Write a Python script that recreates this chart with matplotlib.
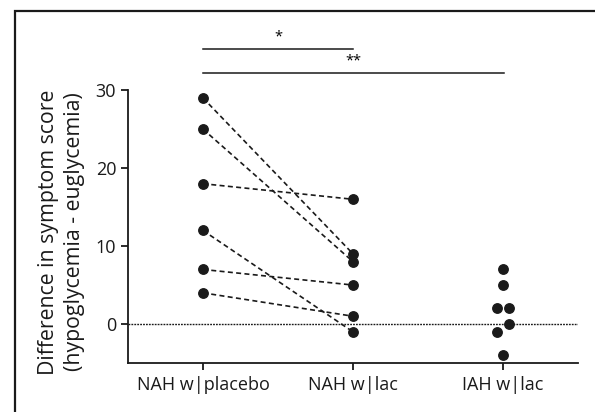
import matplotlib.pyplot as plt
from matplotlib.lines import Line2D

plt.rcParams['font.family'] = ['Open Sans', 'DejaVu Sans']

groups = ["NAH w|placebo", "NAH w|lac", "IAH w|lac"]
nah_placebo = [29, 25, 18, 12, 7, 4]
nah_lac = [9, 8, 16, -1, 5, 1]
iah_lac = [7, 5, 2, 2, 0, -1, -4]
iah_offset = [0, 0, -0.04, 0.04, 0.04, -0.04, 0]

fig = plt.figure(figsize=(5.95, 4.12), dpi=100)
ax = fig.add_axes([0.2151, 0.1189, 0.7563, 0.8326])

# outer frame: only the left and top edges show in the original
fx, fy = 15 / 595, 1 - 11 / 412
fig.add_artist(Line2D([fx, fx, 1.0], [0.0, fy, fy], transform=fig.transFigure,
                      color='#1a1a1a', linewidth=1.6, solid_joinstyle='miter'))

for a, b in zip(nah_placebo, nah_lac):
    ax.plot([0, 1], [a, b], color='#1a1a1a', linestyle=(0, (3, 2)), linewidth=1.2, zorder=2)

ax.axhline(0, color='#1a1a1a', linestyle=(0, (1.3, 0.8)), linewidth=1.0, zorder=1)

ax.plot([0] * len(nah_placebo), nah_placebo, 'o', color='#1a1a1a', markersize=6.8, zorder=3)
ax.plot([1] * len(nah_lac), nah_lac, 'o', color='#1a1a1a', markersize=6.8, zorder=3)
ax.plot([2 + d for d in iah_offset], iah_lac, 'o', color='#1a1a1a', markersize=6.8, zorder=3)

# significance bars
ax.plot([0, 1], [35.3, 35.3], color='#1a1a1a', linewidth=1.1, clip_on=False)
ax.text(0.5, 35.9, "*", ha='center', va='bottom', fontsize=10.5)
ax.plot([0, 2.01], [32.2, 32.2], color='#1a1a1a', linewidth=1.1, clip_on=False)
ax.text(1.0, 32.8, "**", ha='center', va='bottom', fontsize=10.5)

ax.set_xlim(-0.5, 2.5)
ax.set_ylim(-5, 39)
ax.set_yticks([0, 10, 20, 30])
ax.set_xticks([0, 1, 2])
ax.set_xticklabels(groups)
ax.spines['top'].set_visible(False)
ax.spines['right'].set_visible(False)
ax.spines['left'].set_bounds(-5, 30)
for s in ['left', 'bottom']:
    ax.spines[s].set_linewidth(1.3)
    ax.spines[s].set_color('#1a1a1a')
ax.tick_params(axis='both', labelsize=13, width=1.3, length=5, color='#1a1a1a',
               labelcolor='#1a1a1a')
ax.tick_params(axis='x', pad=4)
ax.set_ylabel("Difference in symptom score\n(hypoglycemia - euglycemia)",
              fontsize=15.3, color='#1a1a1a', linespacing=1.35)
ax.yaxis.set_label_coords(-0.095, 0.382)

fig.savefig("out.png", dpi=100)
